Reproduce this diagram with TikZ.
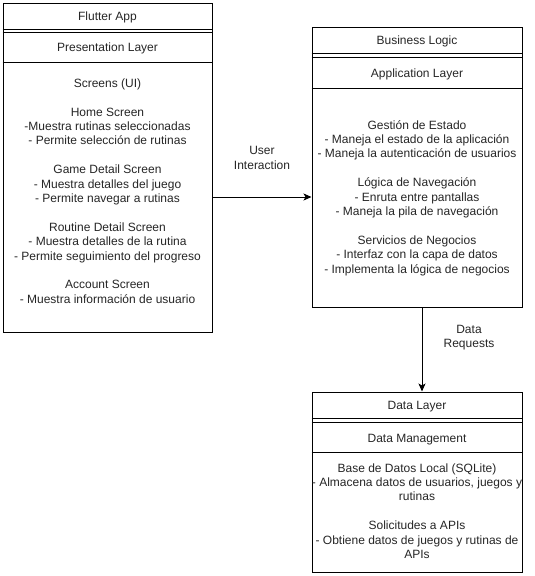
\documentclass[tikz,border=0pt]{standalone}
\usepackage{fontspec}
\setmainfont{Liberation Sans}
\usetikzlibrary{arrows.meta}
\begin{document}
\begin{tikzpicture}[x=1pt,y=-1pt,
  box/.style={draw, line width=1pt, inner sep=0pt, minimum width=209pt},
  sep/.style={line width=1pt},
  txt/.style={inner sep=0pt, align=center, font=\fontsize{12}{14.4}\selectfont, text=black!85},
  arr/.style={line width=1pt, -{Stealth[length=8pt,width=7pt,inset=2pt]}}]
\fill[white] (0,0) rectangle (535,576);
\useasboundingbox (0,0) rectangle (535,576);
% Flutter App
\node[box, minimum height=329pt] (flutter) at (107.5,167.5) {};
\draw[sep] (flutter.west |- 0,29) -- (flutter.east |- 0,29);
\draw[sep] (flutter.west |- 0,32) -- (flutter.east |- 0,32);
\draw[sep] (flutter.west |- 0,62) -- (flutter.east |- 0,62);
\node[txt] (flutterT) at (107.5,17) {Flutter App};
\node[txt] (presT) at (107.5,48.5) {Presentation Layer};
\node[txt] (presB) at (107.5,191) {Screens (UI)\\[14.4pt]
Home Screen\\
-Muestra rutinas seleccionadas\\
- Permite selección de rutinas\\[14.4pt]
Game Detail Screen\\
- Muestra detalles del juego\\
- Permite navegar a rutinas\\[14.4pt]
Routine Detail Screen\\
- Muestra detalles de la rutina\\
- Permite seguimiento del progreso\\[14.4pt]
Account Screen\\
- Muestra información de usuario};
% Business Logic
\node[box, minimum width=210pt, minimum height=280pt] (business) at (417,167) {};
\draw[sep] (business.west |- 0,53) -- (business.east |- 0,53);
\draw[sep] (business.west |- 0,57) -- (business.east |- 0,57);
\draw[sep] (business.west |- 0,88) -- (business.east |- 0,88);
\node[txt] (businessT) at (417,41.5) {Business Logic};
\node[txt] (appT) at (417,74) {Application Layer};
\node[txt] (appB) at (417,198) {Gestión de Estado\\
- Maneja el estado de la aplicación\\
- Maneja la autenticación de usuarios\\[14.4pt]
Lógica de Navegación\\
- Enruta entre pantallas\\
- Maneja la pila de navegación\\[14.4pt]
Servicios de Negocios\\
- Interfaz con la capa de datos\\
- Implementa la lógica de negocios};
% Data Layer
\node[box, minimum width=210pt, minimum height=180pt] (data) at (417,482) {};
\draw[sep] (data.west |- 0,418.5) -- (data.east |- 0,418.5);
\draw[sep] (data.west |- 0,422) -- (data.east |- 0,422);
\draw[sep] (data.west |- 0,452.5) -- (data.east |- 0,452.5);
\node[txt] (dataT) at (417,407) {Data Layer};
\node[txt] (mgmtT) at (417,439.5) {Data Management};
\node[txt] (mgmtB) at (417,511) {Base de Datos Local (SQLite)\\
- Almacena datos de usuarios, juegos y\\
rutinas\\[14.4pt]
Solicitudes a APIs\\
- Obtiene datos de juegos y rutinas de\\
APIs};
% connectors
\coordinate (a1) at (flutter.east |- 0,197);
\draw[arr] (a1) -- (a1 -| business.west);
\node[txt] (ui) at (262,158) {User\\Interaction};
\coordinate (a2) at (422,0 |- business.south);
\draw[arr] (a2) -- (a2 |- data.north);
\node[txt] (dr) at (469,337.5) {Data\\Requests};
\end{tikzpicture}
\end{document}
